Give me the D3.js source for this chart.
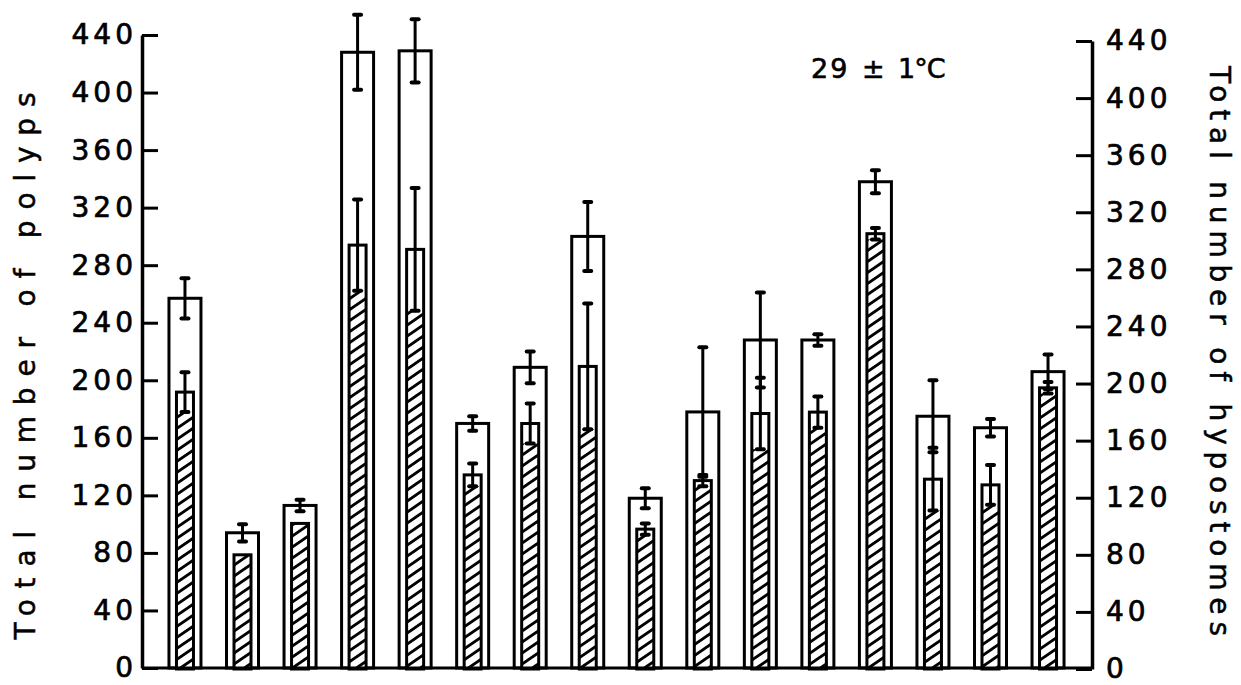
<!DOCTYPE html>
<html>
<head>
<meta charset="utf-8">
<script src="https://cdn.jsdelivr.net/npm/d3@7"></script>
<style>
  body { margin: 0; background: #fff; }
  svg { display: block; }
</style>
</head>
<body>
<svg id="chart" width="1241" height="685"></svg>
<script>
// Sixteen culture groups, unlabeled on the category axis
const groups = ["1","2","3","4","5","6","7","8","9","10","11","12","13","14","15","16"];

// Total number of polyps (open bars, left axis) with error half-widths
const polyps    = [257, 94, 113, 428, 429, 170, 209, 300, 118, 178, 228, 228, 338, 175, 167, 206];
const polypsErr = [14, 6, 4, 26, 22, 5, 11, 24, 7, 45, 33, 4, 8, 25, 6, 12];

// Total number of hypostomes (hatched bars, right axis) with error half-widths
const hypostomes    = [194, 80, 102, 297, 294, 136, 172, 212, 98, 132, 179, 180, 305, 133, 129, 197];
const hypostomesErr = [14, 0, 0, 32, 43, 8, 14, 44, 4, 4, 25, 11, 4, 22, 14, 4];

// Tick values shared by both axes
const tickValues = [0, 40, 80, 120, 160, 200, 240, 280, 320, 360, 400, 440];

const leftTitle  = "Total number of polyps";
const rightTitle = "Total number of hypostomes";
const tempParts  = ["29", "±", "1°C"];

const svg = d3.select("#chart");
const FONT = "'DejaVu Sans', Verdana, sans-serif";

const xLeft = 142, xRight = 1092;
const yL = d3.scaleLinear().domain([0, 440]).range([668, 35]);
const yR = d3.scaleLinear().domain([0, 440]).range([669, 41]);
const x = d3.scaleBand().domain(groups).range([156.2, 1076.8]).padding(0);
const cx = d => x(d) + x.bandwidth() / 2;

const outerW = 32, innerW = 17;

// slanted hatch for the hypostome bars
const hw = 16, hh = 11, k = hh / hw;
const defs = svg.append("defs");
const pat = defs.append("pattern")
  .attr("id", "hatch")
  .attr("patternUnits", "userSpaceOnUse")
  .attr("width", hw).attr("height", hh);
pat.append("rect").attr("width", hw).attr("height", hh).attr("fill", "#fff");
pat.append("path")
  .attr("d", [0, 1, 2].map(n =>
    `M-2,${n * hh + 2 * k} L${hw + 2},${n * hh - (hw + 2) * k}`).join(" "))
  .attr("stroke", "#000").attr("stroke-width", 2.8).attr("fill", "none");

const plot = svg.append("g");

// open bars: polyps
plot.selectAll("rect.outer").data(groups).join("rect")
  .attr("class", "outer")
  .attr("x", d => cx(d) - outerW / 2)
  .attr("y", (d, i) => yL(polyps[i]))
  .attr("width", outerW)
  .attr("height", (d, i) => yL(0) - yL(polyps[i]))
  .attr("fill", "#fff")
  .attr("stroke", "#000")
  .attr("stroke-width", 3);

// hatched bars: hypostomes
plot.selectAll("rect.inner").data(groups).join("rect")
  .attr("class", "inner")
  .attr("x", d => cx(d) - innerW / 2)
  .attr("y", (d, i) => yR(hypostomes[i]))
  .attr("width", innerW)
  .attr("height", (d, i) => yR(0) - yR(hypostomes[i]))
  .attr("fill", "url(#hatch)")
  .attr("stroke", "none");

// hatching is left clear where the lower error whisker runs inside the bar
plot.selectAll("rect.clear").data(groups.filter((d, i) => hypostomesErr[i] > 0)).join("rect")
  .attr("class", "clear")
  .attr("x", d => cx(d) - innerW / 2)
  .attr("y", d => yR(hypostomes[groups.indexOf(d)]))
  .attr("width", innerW)
  .attr("height", d => {
    const i = groups.indexOf(d);
    return yR(hypostomes[i] - hypostomesErr[i]) - yR(hypostomes[i]);
  })
  .attr("fill", "#fff");

plot.selectAll("rect.innerEdge").data(groups).join("rect")
  .attr("class", "innerEdge")
  .attr("x", d => cx(d) - innerW / 2)
  .attr("y", (d, i) => yR(hypostomes[i]))
  .attr("width", innerW)
  .attr("height", (d, i) => yR(0) - yR(hypostomes[i]))
  .attr("fill", "none")
  .attr("stroke", "#000")
  .attr("stroke-width", 3);

// error whiskers
function whiskers(cls, values, errs, scale) {
  const data = groups.map((g, i) => ({ g, v: values[i], e: errs[i] })).filter(d => d.e > 0);
  const g = plot.selectAll("g." + cls).data(data).join("g").attr("class", cls)
    .attr("stroke", "#000").attr("stroke-linecap", "round");
  g.append("line")
    .attr("x1", d => cx(d.g)).attr("x2", d => cx(d.g))
    .attr("y1", d => scale(d.v + d.e)).attr("y2", d => scale(d.v - d.e))
    .attr("stroke-width", 3);
  g.append("line")
    .attr("x1", d => cx(d.g) - 3.5).attr("x2", d => cx(d.g) + 3.5)
    .attr("y1", d => scale(d.v + d.e)).attr("y2", d => scale(d.v + d.e))
    .attr("stroke-width", 4);
  g.append("line")
    .attr("x1", d => cx(d.g) - 3.5).attr("x2", d => cx(d.g) + 3.5)
    .attr("y1", d => scale(d.v - d.e)).attr("y2", d => scale(d.v - d.e))
    .attr("stroke-width", 4);
}
whiskers("errOuter", polyps, polypsErr, yL);
whiskers("errInner", hypostomes, hypostomesErr, yR);

// baseline
svg.append("line")
  .attr("x1", xLeft).attr("x2", xRight)
  .attr("y1", yL(0)).attr("y2", yL(0))
  .attr("stroke", "#000").attr("stroke-width", 3);

// axes
function styleAxis(g) {
  g.select(".domain").attr("stroke", "#000").attr("stroke-width", 3.5);
  g.selectAll(".tick line").attr("stroke", "#000").attr("stroke-width", 3);
  g.selectAll(".tick text")
    .attr("font-family", FONT)
    .attr("font-size", 28)
    .attr("letter-spacing", 4)
    .attr("fill", "#000")
    .attr("stroke", "#000").attr("stroke-width", 0.7);
}

svg.append("g")
  .attr("transform", `translate(${xLeft},0)`)
  .call(d3.axisLeft(yL).tickValues(tickValues).tickSize(-16).tickSizeOuter(0).tickPadding(5))
  .call(styleAxis);

svg.append("g")
  .attr("transform", `translate(${xRight},0)`)
  .call(d3.axisRight(yR).tickValues(tickValues).tickSize(-16).tickSizeOuter(0).tickPadding(14))
  .call(styleAxis);

// axis titles
svg.append("text")
  .attr("transform", "translate(35,366) rotate(-90)")
  .attr("text-anchor", "middle")
  .attr("font-family", FONT).attr("font-size", 28)
  .attr("textLength", 547).attr("lengthAdjust", "spacing")
  .attr("fill", "#000").attr("stroke", "#000").attr("stroke-width", 0.5)
  .text(leftTitle);

svg.append("text")
  .attr("transform", "translate(1210,351) rotate(90)")
  .attr("text-anchor", "middle")
  .attr("font-family", FONT).attr("font-size", 28)
  .attr("textLength", 570).attr("lengthAdjust", "spacing")
  .attr("fill", "#000").attr("stroke", "#000").attr("stroke-width", 0.5)
  .text(rightTitle);

// temperature note
const temp = svg.append("text")
  .attr("y", 78)
  .attr("font-family", FONT).attr("font-size", 27)
  .attr("fill", "#000").attr("stroke", "#000").attr("stroke-width", 0.6);
temp.append("tspan").attr("x", 811).attr("letter-spacing", 2).text(tempParts[0]);
temp.append("tspan").attr("x", 862).text(tempParts[1]);
temp.append("tspan").attr("x", 898).attr("letter-spacing", -1).text(tempParts[2]);
</script>
</body>
</html>
